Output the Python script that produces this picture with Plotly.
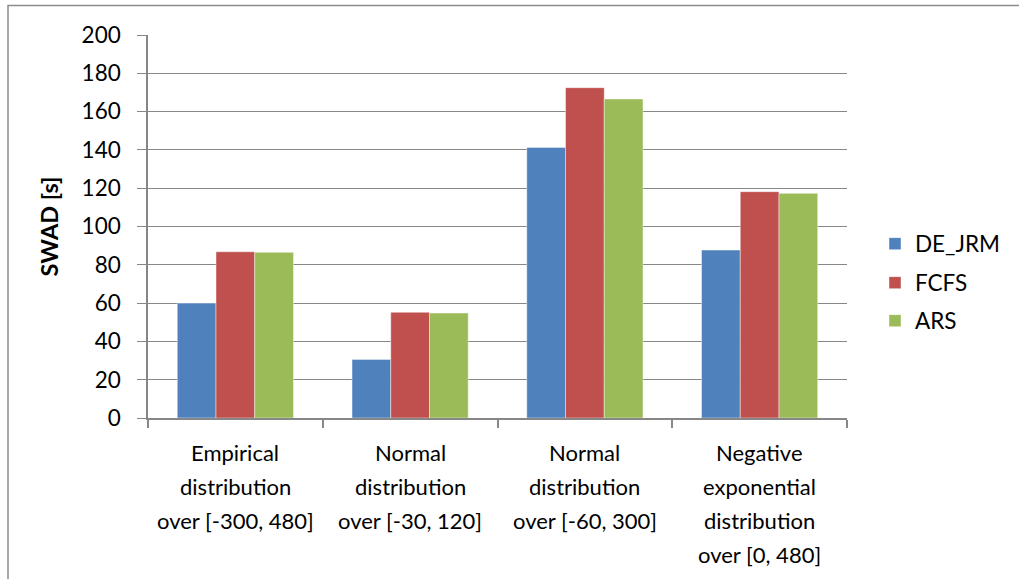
import plotly.graph_objects as go

categories = [
    "Empirical<br>distribution<br>over [-300, 480]",
    "Normal<br>distribution<br>over [-30, 120]",
    "Normal<br>distribution<br>over [-60, 300]",
    "Negative<br>exponential<br>distribution<br>over [0, 480]",
]
de_jrm = [60.0, 30.6, 141.3, 87.7]
fcfs = [86.8, 55.2, 172.5, 118.2]
ars = [86.5, 54.8, 166.6, 117.3]

series = [
    ("DE_JRM", de_jrm, "#4F81BD"),
    ("FCFS", fcfs, "#C0504D"),
    ("ARS", ars, "#9BBB59"),
]

y_ticks = list(range(0, 201, 20))

FONT = "Lato"
GRID = "#878787"

W, H = 1019, 579
L, R, T, B = 148, 172, 35, 161
pw, ph = W - L - R, H - T - B


def px_x(x):
    return (x - L) / pw


def px_y(y):
    return (H - B - y) / ph


fig = go.Figure()
legend_names = ["legend", "legend2", "legend3"]
for (name, vals, color), lg in zip(series, legend_names):
    fig.add_trace(go.Bar(
        name=name, x=categories, y=vals, legend=lg,
        marker=dict(color=color, line=dict(color="rgba(255,255,255,0.55)", width=0.8)),
    ))

# one legend box per series so the entries get the wide vertical spacing
legend_style = dict(
    xanchor="left", yanchor="middle",
    font=dict(family=FONT, size=22.5, color="black"),
    bgcolor="rgba(0,0,0,0)", itemwidth=30,
)
legend_rows = [244, 283, 321]
legends = {
    lg: dict(x=px_x(875), y=px_y(row), **legend_style)
    for lg, row in zip(legend_names, legend_rows)
}

# multi-line category labels, one annotation per line for wider line spacing
LINE_GAP = 34
FIRST_LINE = 34
annotations = []
for cat in categories:
    for i, line in enumerate(cat.split("<br>")):
        annotations.append(dict(
            x=cat, y=0, xref="x", yref="y",
            text=line, showarrow=False,
            xanchor="center", yanchor="middle",
            yshift=-(FIRST_LINE + i * LINE_GAP),
            font=dict(family=FONT, size=22, color="black"),
        ))

fig.update_layout(
    width=W, height=H,
    margin=dict(l=L, r=R, t=T, b=B, autoexpand=False),
    paper_bgcolor="white", plot_bgcolor="white",
    barmode="group", bargap=0.335, bargroupgap=0,
    font=dict(family=FONT, size=20, color="black"),
    showlegend=True,
    annotations=annotations,
    shapes=[dict(
        type="rect", xref="paper", yref="paper",
        x0=px_x(8), x1=px_x(1040), y0=px_y(600), y1=px_y(5.5),
        line=dict(color="#8c8c8c", width=1.5), fillcolor="rgba(0,0,0,0)",
        layer="below",
    )],
    **legends,
)

fig.update_xaxes(
    showgrid=False, showline=True, linecolor=GRID, linewidth=1.5,
    ticks="outside", tickson="boundaries", ticklen=8, tickcolor=GRID, tickwidth=1.5,
    showticklabels=False,
)
fig.update_yaxes(
    range=[0, 200], tickvals=y_ticks,
    showgrid=True, gridcolor=GRID, gridwidth=1.2,
    showline=True, linecolor=GRID, linewidth=1.5,
    ticks="outside", ticklen=9, tickcolor=GRID, tickwidth=1.2,
    tickfont=dict(family=FONT, size=22.5, color="black"),
    ticklabelstandoff=12,
    zeroline=False,
    title=dict(text="<b>SWAD [s]</b>", font=dict(family=FONT, size=23.5, color="black"), standoff=16),
)

fig.write_html("out.html")
